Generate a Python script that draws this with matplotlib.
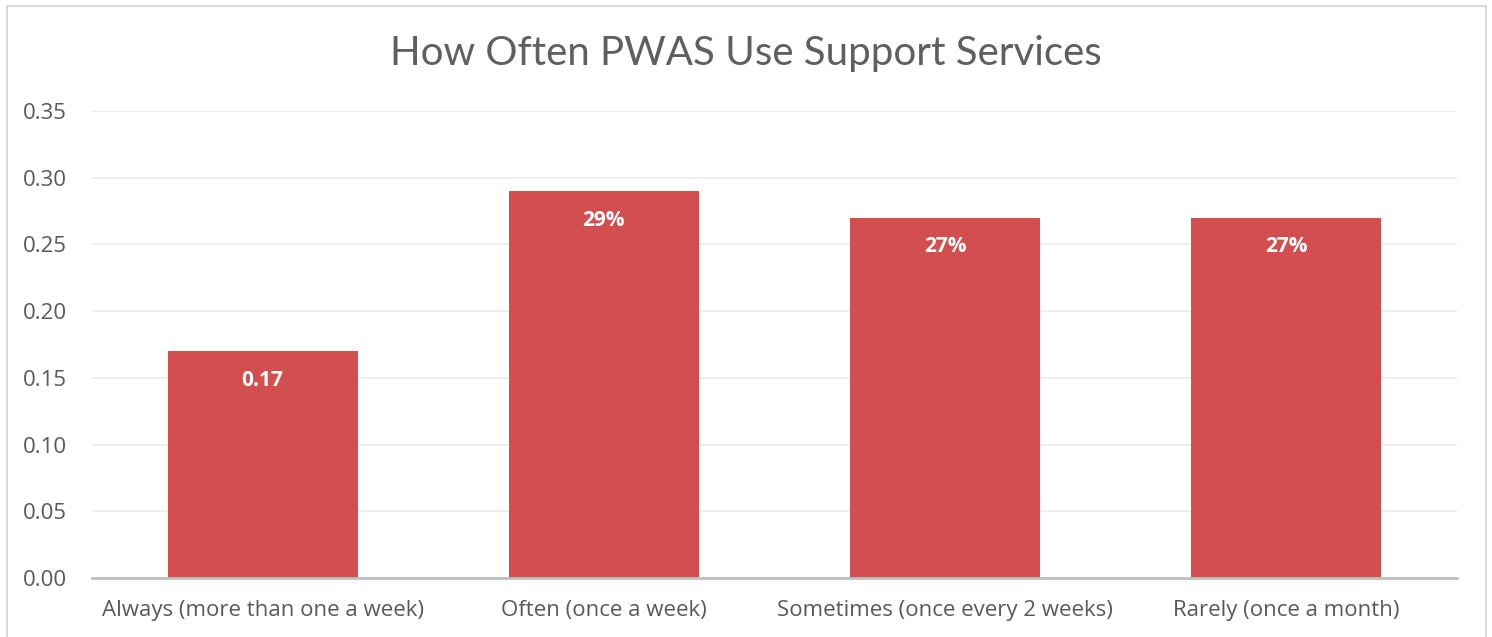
import matplotlib.pyplot as plt
from matplotlib.lines import Line2D

categories = ["Always (more than one a week)", "Often (once a week)",
              "Sometimes (once every 2 weeks)", "Rarely (once a month)"]
values = [0.17, 0.29, 0.27, 0.27]
bar_labels = ["0.17", "29%", "27%", "27%"]
yticks = [0.00, 0.05, 0.10, 0.15, 0.20, 0.25, 0.30, 0.35]

plt.rcParams["font.family"] = ["Open Sans", "DejaVu Sans"]

fig = plt.figure(figsize=(14.92, 6.37), dpi=100)
ax = fig.add_axes([92 / 1492, 1 - 578 / 637, (1457 - 92) / 1492, (578 - 111) / 637])

x = range(len(categories))
bars = ax.bar(x, values, width=0.557, color="#D34E4F", zorder=3)

for bar, lab in zip(bars, bar_labels):
    ax.annotate(lab, xy=(bar.get_x() + bar.get_width() / 2, bar.get_height()),
                xytext=(0, -21), textcoords="offset points",
                ha="center", va="center", color="white",
                fontsize=15, fontweight="bold", zorder=4)

ax.set_xlim(-0.5, len(categories) - 0.5)
ax.set_ylim(0, 0.35)
ax.set_yticks(yticks)
ax.set_yticklabels([f"{t:.2f}" for t in yticks])
ax.set_xticks(list(x))
ax.set_xticklabels(categories)
ax.tick_params(axis="both", length=0, labelsize=16, labelcolor="#595959")
ax.tick_params(axis="y", pad=18)
ax.tick_params(axis="x", pad=16)

ax.grid(axis="y", color="#EBEBEB", linewidth=1.2, zorder=0)
for side in ["top", "right", "left"]:
    ax.spines[side].set_visible(False)
ax.spines["bottom"].set_color("#BFBFBF")
ax.spines["bottom"].set_linewidth(2)
ax.spines["bottom"].set_zorder(5)

fig.text(746 / 1492, 1 - 53 / 637, "How Often PWAS Use Support Services",
         ha="center", va="center", fontsize=29, color="#5F5F5F",
         family=["Lato", "DejaVu Sans"], fontweight="normal")

# chart area border
bc = "#D9D9D9"
fig.add_artist(Line2D([7 / 1492, 7 / 1492], [0, 1 - 6 / 637], color=bc, lw=1.5))
fig.add_artist(Line2D([1486 / 1492, 1486 / 1492], [0, 1 - 6 / 637], color=bc, lw=1.5))
fig.add_artist(Line2D([7 / 1492, 1486 / 1492], [1 - 6 / 637, 1 - 6 / 637], color=bc, lw=1.5))

fig.savefig("out.png", dpi=100, facecolor="white")
